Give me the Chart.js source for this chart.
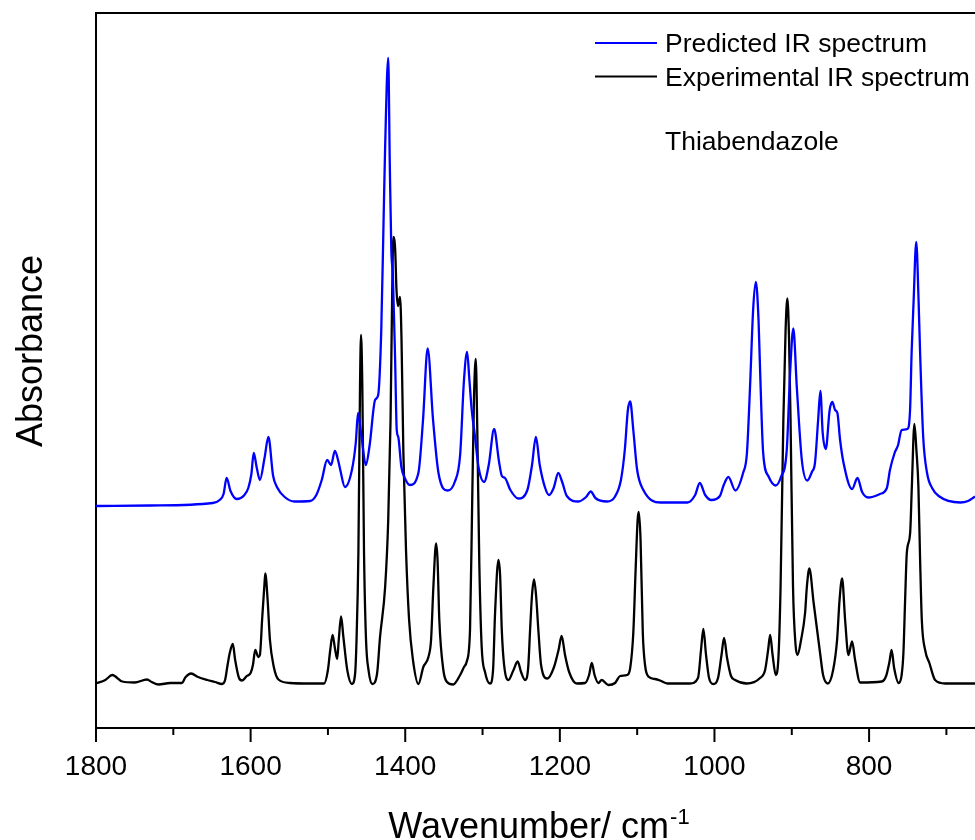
<!DOCTYPE html>
<html>
<head>
<meta charset="utf-8">
<script src="https://cdn.jsdelivr.net/npm/chart.js@4.4.1/dist/chart.umd.min.js"></script>
<style>
  html, body { margin: 0; padding: 0; background: #fff; }
  #wrap { width: 975px; height: 840px; }
</style>
</head>
<body>
<div id="wrap"><canvas id="irChart" width="975" height="840"></canvas></div>
<script>
// wavenumbers (cm-1) and absorbance (arb. units)
var predWn = [1800, 1730, 1649, 1640, 1635, 1631, 1626, 1618, 1608, 1603, 1599, 1596, 1592, 1588, 1582, 1577, 1571, 1566, 1556, 1543,
  1523, 1515, 1508, 1501, 1496, 1491, 1486, 1484, 1478, 1469, 1464, 1461, 1458, 1456, 1451, 1446, 1439, 1435, 1431, 1428,
  1426, 1422, 1420, 1418, 1416, 1413, 1411, 1409, 1405, 1400, 1394, 1383, 1377, 1371, 1364, 1357, 1345, 1336, 1329, 1324,
  1320, 1317, 1314, 1310, 1305, 1298, 1292, 1285, 1279, 1275, 1271, 1264, 1254, 1242, 1236, 1231, 1226, 1219, 1214, 1208,
  1202, 1197, 1191, 1176, 1166, 1160, 1154, 1139, 1129, 1121, 1116, 1112, 1109, 1105, 1100, 1092, 1070, 1035, 1025, 1019,
  1012, 1004, 993, 988, 982, 973, 963, 958, 954, 950, 946.5, 943, 941, 937, 930, 921, 914, 906.5, 902, 898,
  893.5, 887, 880, 874, 870, 866, 863, 860, 856, 851, 847.5, 844, 841, 837.5, 833, 822, 815, 809, 801, 786,
  777, 773, 767, 762.5, 758, 750.5, 747, 745, 742.5, 739, 736, 734, 730, 725, 718.5, 710, 682, 672, 663];
var predAbs = [0.444, 0.445, 0.450, 0.456, 0.468, 0.500, 0.474, 0.458, 0.466, 0.480, 0.508, 0.550, 0.520, 0.496, 0.540, 0.582, 0.505, 0.482, 0.462, 0.453,
  0.454, 0.466, 0.496, 0.536, 0.526, 0.554, 0.530, 0.516, 0.482, 0.516, 0.570, 0.630, 0.600, 0.576, 0.526, 0.566, 0.656, 0.666, 0.796, 1.016,
  1.162, 1.340, 1.130, 0.956, 0.906, 0.730, 0.596, 0.582, 0.522, 0.498, 0.486, 0.510, 0.616, 0.759, 0.616, 0.510, 0.475, 0.492, 0.546, 0.696,
  0.752, 0.696, 0.636, 0.586, 0.520, 0.492, 0.526, 0.598, 0.536, 0.504, 0.500, 0.476, 0.459, 0.476, 0.526, 0.582, 0.526, 0.480, 0.466, 0.480,
  0.510, 0.492, 0.464, 0.453, 0.462, 0.473, 0.460, 0.453, 0.462, 0.496, 0.556, 0.636, 0.653, 0.596, 0.516, 0.476, 0.451, 0.451, 0.466, 0.490,
  0.466, 0.456, 0.464, 0.486, 0.502, 0.475, 0.510, 0.550, 0.682, 0.836, 0.892, 0.816, 0.716, 0.550, 0.503, 0.485, 0.502, 0.556, 0.716, 0.799,
  0.682, 0.536, 0.495, 0.512, 0.530, 0.614, 0.674, 0.590, 0.558, 0.636, 0.652, 0.636, 0.630, 0.576, 0.530, 0.478, 0.500, 0.472, 0.461, 0.468,
  0.480, 0.516, 0.550, 0.566, 0.596, 0.598, 0.636, 0.750, 0.850, 0.972, 0.856, 0.750, 0.582, 0.510, 0.480, 0.464, 0.451, 0.454, 0.463];

var expWn = [1800, 1788, 1779, 1766, 1750, 1734, 1728, 1719, 1704, 1689, 1684, 1677, 1668, 1656, 1646, 1637, 1633, 1630, 1627, 1623,
  1620, 1615, 1611, 1605, 1600, 1597, 1594, 1590, 1588, 1585, 1582, 1581, 1578, 1575, 1570, 1564, 1549, 1523, 1505, 1500,
  1497, 1494, 1491, 1488, 1486, 1483, 1480, 1475, 1469, 1465, 1463, 1460.6, 1458.5, 1457.2, 1455.5, 1453.3, 1450.7, 1447.5, 1442.6, 1436.5,
  1432.6, 1426, 1422, 1419, 1417, 1415.4, 1413, 1411.3, 1409.4, 1406.7, 1404.8, 1402.4, 1399, 1395, 1390, 1383, 1376.6, 1370, 1366.6, 1363.6,
  1360.1, 1358.2, 1355.9, 1350.7, 1346, 1338, 1329, 1324, 1320.4, 1316.2, 1313.3, 1311.1, 1308.8, 1306.8, 1304.2, 1301.1, 1296.8, 1290.3, 1286.4, 1283.8,
  1279.5, 1277.3, 1275.1, 1272.1, 1266.6, 1260.5, 1254.5, 1250.2, 1245, 1241, 1238.5, 1236, 1233.4, 1230.8, 1227.8, 1224.3, 1216.2, 1207.5, 1201.7, 1197.7,
  1193.3, 1188, 1178, 1167.4, 1162.2, 1158.7, 1155.1, 1150.2, 1145.8, 1137.3, 1128.6, 1122, 1113, 1109, 1105, 1102, 1099.4, 1097.9, 1095.6, 1092.7,
  1089.8, 1085.5, 1076.8, 1070.4, 1061, 1031.6, 1021.3, 1017.4, 1014.4, 1010.9, 1007, 1001.5, 995.4, 990.9, 987.6, 983.7, 978.6, 973.3, 958.2, 941,
  934.5, 930.6, 928, 924.8, 920.7, 917.1, 914.5, 910.9, 908, 905.7, 903.5, 901.6, 898.4, 895.1, 892.7, 888, 882.8, 880.5, 877.3, 871.7,
  863.4, 859.5, 853.4, 846.5, 841.4, 838.2, 834.9, 831, 826.7, 822, 818.1, 811.6, 783.6, 778, 773.7, 770.9, 767.6, 761.8, 757.9, 755.6,
  753.4, 751.2, 746.9, 744.7, 741.4, 738.8, 736.2, 734, 731.8, 727.5, 722, 714.6, 701.6, 663];
var expAbs = [0.089, 0.096, 0.106, 0.093, 0.091, 0.097, 0.092, 0.087, 0.090, 0.090, 0.102, 0.109, 0.102, 0.096, 0.092, 0.088, 0.096, 0.124, 0.150, 0.168,
  0.136, 0.100, 0.095, 0.104, 0.110, 0.126, 0.156, 0.142, 0.146, 0.220, 0.290, 0.309, 0.256, 0.176, 0.122, 0.097, 0.090, 0.089, 0.089, 0.116,
  0.156, 0.186, 0.160, 0.138, 0.176, 0.223, 0.182, 0.116, 0.088, 0.106, 0.176, 0.350, 0.682, 0.786, 0.682, 0.350, 0.176, 0.116, 0.088, 0.108,
  0.182, 0.282, 0.416, 0.616, 0.856, 0.982, 0.956, 0.876, 0.844, 0.862, 0.776, 0.550, 0.356, 0.216, 0.136, 0.088, 0.122, 0.142, 0.176, 0.282,
  0.369, 0.336, 0.216, 0.116, 0.092, 0.087, 0.106, 0.122, 0.133, 0.196, 0.462, 0.656, 0.738, 0.596, 0.330, 0.162, 0.112, 0.089, 0.116, 0.230,
  0.336, 0.306, 0.196, 0.126, 0.096, 0.114, 0.133, 0.112, 0.096, 0.120, 0.196, 0.266, 0.297, 0.266, 0.196, 0.126, 0.099, 0.122, 0.156, 0.184,
  0.146, 0.112, 0.089, 0.090, 0.106, 0.130, 0.106, 0.090, 0.096, 0.086, 0.090, 0.104, 0.106, 0.120, 0.190, 0.316, 0.416, 0.432, 0.376, 0.190,
  0.126, 0.103, 0.098, 0.095, 0.089, 0.089, 0.100, 0.156, 0.198, 0.146, 0.100, 0.088, 0.100, 0.146, 0.180, 0.140, 0.104, 0.096, 0.089, 0.100,
  0.116, 0.156, 0.186, 0.146, 0.106, 0.146, 0.282, 0.616, 0.796, 0.859, 0.776, 0.616, 0.282, 0.166, 0.146, 0.176, 0.230, 0.282, 0.319, 0.250,
  0.150, 0.106, 0.089, 0.116, 0.176, 0.256, 0.299, 0.216, 0.146, 0.173, 0.136, 0.091, 0.093, 0.104, 0.132, 0.156, 0.120, 0.090, 0.106, 0.150,
  0.256, 0.350, 0.390, 0.482, 0.608, 0.556, 0.482, 0.336, 0.216, 0.156, 0.130, 0.096, 0.089, 0.089];

var xTicks = [700, 800, 900, 1000, 1100, 1200, 1300, 1400, 1500, 1600, 1700, 1800];
var xLabelStep = 200;
var compound = "Thiabendazole";

var FONT = '"Liberation Sans", Arial, Helvetica, sans-serif';

function toPoints(wn, abs) {
    return wn.map((w, i) => ({ x: w, y: abs[i] }));
}

// frame, tick marks, axis titles and legend
const decorations = {
    id: 'decorations',
    afterDraw(chart) {
        const { ctx, chartArea: a } = chart;
        const x = chart.scales.x;
        ctx.save();
        ctx.strokeStyle = '#000';
        ctx.lineWidth = 2;

        ctx.beginPath();
        ctx.moveTo(a.left - 1, a.top);
        ctx.lineTo(a.right, a.top);
        ctx.stroke();

        x.ticks.forEach(t => {
            const px = x.getPixelForValue(t.value);
            const len = t.value % xLabelStep === 0 ? 14 : 7;
            ctx.beginPath();
            ctx.moveTo(px, a.bottom);
            ctx.lineTo(px, a.bottom + len);
            ctx.stroke();
        });

        // x title with superscript
        ctx.fillStyle = '#000';
        ctx.textBaseline = 'alphabetic';
        ctx.textAlign = 'left';
        ctx.font = '36px ' + FONT;
        const main = 'Wavenumber/ cm';
        const wMain = ctx.measureText(main).width;
        ctx.font = '22px ' + FONT;
        const sup = '-1';
        const wSup = ctx.measureText(sup).width;
        const startX = (a.left + a.right) / 2 + 3 - (wMain + wSup) / 2;
        ctx.font = '36px ' + FONT;
        ctx.fillText(main, startX, 838);
        ctx.font = '22px ' + FONT;
        ctx.fillText(sup, startX + wMain + 1, 824);

        // y title
        ctx.save();
        ctx.translate(42, 351);
        ctx.rotate(-Math.PI / 2);
        ctx.textAlign = 'center';
        ctx.font = '36px ' + FONT;
        ctx.fillText('Absorbance', 0, 0);
        ctx.restore();

        // legend
        ctx.font = '26.5px ' + FONT;
        ctx.textAlign = 'left';
        chart.data.datasets.forEach((ds, i) => {
            const ly = 43 + i * 33.5;
            ctx.strokeStyle = ds.borderColor;
            ctx.lineWidth = 2;
            ctx.beginPath();
            ctx.moveTo(595, ly);
            ctx.lineTo(657, ly);
            ctx.stroke();
            ctx.fillText(ds.label, 665, ly + 9.3);
        });
        ctx.fillText(compound, 665, 150);
        ctx.restore();
    }
};

const chart = new Chart(document.getElementById('irChart'), {
    type: 'line',
    data: {
        datasets: [
            {
                label: 'Predicted IR spectrum',
                data: toPoints(predWn, predAbs),
                borderColor: '#0000ff',
                borderWidth: 2.3,
                pointRadius: 0,
                cubicInterpolationMode: 'monotone',
                fill: false
            },
            {
                label: 'Experimental IR spectrum',
                data: toPoints(expWn, expAbs),
                borderColor: '#000000',
                borderWidth: 2.3,
                pointRadius: 0,
                cubicInterpolationMode: 'monotone',
                fill: false
            }
        ]
    },
    options: {
        responsive: false,
        animation: false,
        events: [],
        layout: { padding: { top: 13, right: 0, left: 0, bottom: 0 } },
        plugins: {
            legend: { display: false },
            tooltip: { enabled: false }
        },
        scales: {
            x: {
                type: 'linear',
                reverse: true,
                min: 663,
                max: 1800,
                afterBuildTicks: (s) => { s.ticks = xTicks.map(v => ({ value: v })); },
                afterFit: (s) => { s.height = 112; },
                ticks: {
                    includeBounds: false,
                    autoSkip: false,
                    maxRotation: 0,
                    padding: 22,
                    color: '#000',
                    font: { family: FONT, size: 28 },
                    callback: (v) => (v % xLabelStep === 0 ? String(v) : '')
                },
                grid: { display: false, drawTicks: false },
                border: { display: true, color: '#000', width: 2 }
            },
            y: {
                min: 0,
                max: 1.43,
                afterFit: (s) => { s.width = 96; },
                ticks: { display: false },
                grid: { display: false, drawTicks: false },
                border: { display: true, color: '#000', width: 2 }
            }
        }
    },
    plugins: [decorations]
});
</script>
</body>
</html>
